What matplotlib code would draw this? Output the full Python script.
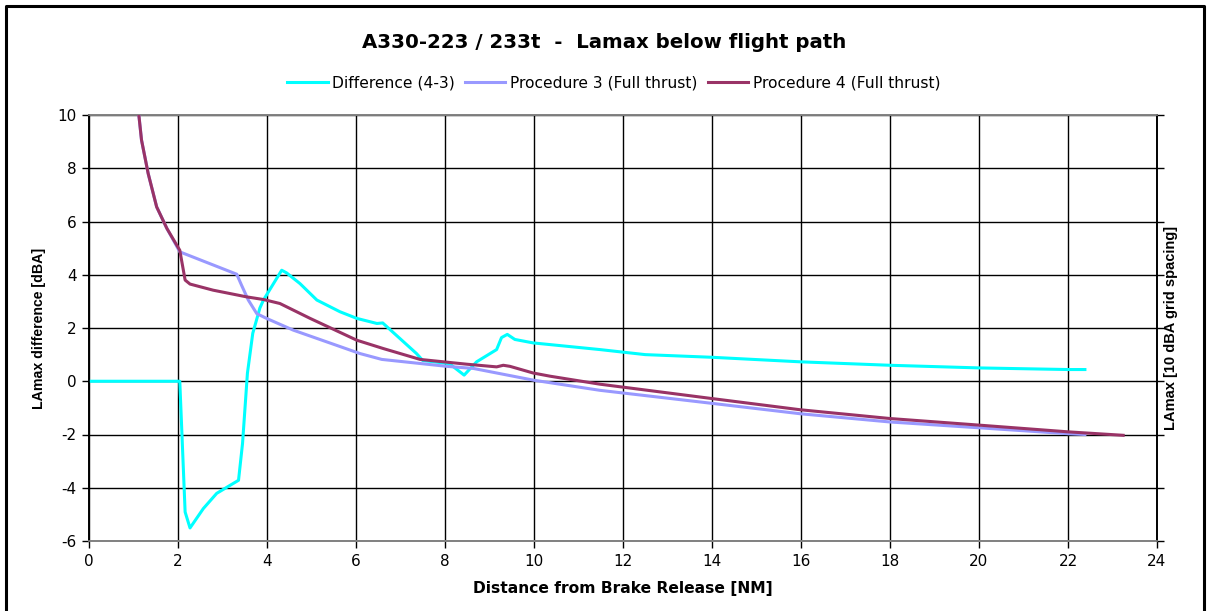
import matplotlib.pyplot as plt
from matplotlib.lines import Line2D

plt.rcParams['font.family'] = ['DejaVu Sans']
plt.rcParams['axes.unicode_minus'] = False

# Difference between procedures (4-3), dBA
diff_x = [0, 2.04, 2.16, 2.27, 2.57, 2.87, 3.24, 3.36, 3.45, 3.56, 3.68, 3.84, 3.92,
          4.33, 4.44, 4.74, 5.12, 5.64, 6.02, 6.47, 6.6, 7.36, 7.5, 8.1, 8.43, 8.71,
          9.16, 9.27, 9.4, 9.57, 9.98, 11.48, 12.5, 14.0, 15.98, 18.0, 20.02, 22.0, 22.38]
diff_y = [0, 0, -4.91, -5.51, -4.78, -4.21, -3.84, -3.72, -2.34, 0.3, 1.8, 2.75, 3.05,
          4.17, 4.07, 3.67, 3.05, 2.61, 2.36, 2.17, 2.19, 1.04, 0.78, 0.66, 0.23, 0.73,
          1.19, 1.64, 1.76, 1.57, 1.44, 1.19, 1.0, 0.9, 0.73, 0.6, 0.5, 0.44, 0.44]

# Procedure 3 (Full thrust)
p3_x = [1.12, 1.18, 1.33, 1.52, 1.75, 2.04, 3.32, 3.43, 3.58, 3.77, 3.99, 4.59, 5.34,
        6.09, 6.58, 8.04, 8.64, 9.99, 11.48, 14.0, 15.98, 18.0, 20.02, 22.0, 22.38]
p3_y = [10.0, 9.06, 7.8, 6.55, 5.74, 4.86, 4.02, 3.6, 3.05, 2.54, 2.36, 1.92, 1.48,
        1.04, 0.82, 0.56, 0.48, 0.04, -0.34, -0.83, -1.22, -1.53, -1.75, -1.97, -2.0]

# Procedure 4 (Full thrust)
p4_x = [1.12, 1.18, 1.33, 1.52, 1.75, 2.04, 2.16, 2.27, 2.79, 3.54, 3.92, 4.29, 4.97,
        6.02, 6.61, 7.44, 8.49, 9.16, 9.31, 9.46, 9.98, 10.36, 11.48, 14.0, 15.98,
        18.0, 20.02, 22.0, 23.24]
p4_y = [10.0, 9.06, 7.8, 6.55, 5.74, 4.92, 3.8, 3.65, 3.42, 3.17, 3.07, 2.92, 2.36,
        1.54, 1.23, 0.82, 0.64, 0.54, 0.6, 0.56, 0.31, 0.19, -0.11, -0.65, -1.07,
        -1.4, -1.65, -1.9, -2.03]

x_ticks = list(range(0, 25, 2))
y_ticks = list(range(-6, 11, 2))

W, H = 1208, 611
fig = plt.figure(figsize=(W / 100, H / 100), dpi=100)
ax = fig.add_axes([89 / W, 1 - 541 / H, (1157 - 89) / W, (541 - 115) / H])
ax2 = ax.twinx()

c_diff = '#00FFFF'
c_p3 = '#9999FF'
c_p4 = '#993366'

ax.plot(diff_x, diff_y, color=c_diff, lw=2.2, zorder=3)
ax2.plot(p3_x, p3_y, color=c_p3, lw=2.2, zorder=3)
ax2.plot(p4_x, p4_y, color=c_p4, lw=2.2, zorder=4)

for a in (ax, ax2):
    a.set_xlim(0, 24)
    a.set_ylim(-6, 10)
    a.set_yticks(y_ticks)

ax.set_xticks(x_ticks)
ax.grid(True, color='black', lw=1.0)
ax.set_axisbelow(True)
ax.tick_params(axis='both', direction='out', length=5, width=1, labelsize=11,
               colors='black', pad=4)
ax2.tick_params(axis='y', direction='out', length=5, width=1, labelright=False)
ax2.set_zorder(ax.get_zorder() + 1)
ax.patch.set_visible(True)
ax2.patch.set_visible(False)

for a in (ax, ax2):
    a.spines['top'].set_color('#808080')
    a.spines['bottom'].set_color('#808080')
    a.spines['left'].set_color('black')
    a.spines['right'].set_color('black')
    for s in a.spines.values():
        s.set_linewidth(1.2)

ax.set_xlabel('Distance from Brake Release [NM]', fontsize=11.2, fontweight='bold',
              labelpad=9)
ax.set_ylabel('LAmax difference [dBA]', fontsize=10.2,
              fontweight='bold', family=['Liberation Sans'], labelpad=8)
ax2.set_ylabel('LAmax [10 dBA grid spacing]', fontsize=10.5,
               fontweight='bold', family=['Liberation Sans'], labelpad=0)

fig.text(0.5, 1 - 43 / H, 'A330-223 / 233t  -  Lamax below flight path',
         ha='center', va='center', fontsize=14.2, fontweight='bold')

handles = [Line2D([], [], color=c_diff, lw=2.2),
           Line2D([], [], color=c_p3, lw=2.2),
           Line2D([], [], color=c_p4, lw=2.2)]
labels = ['Difference (4-3)', 'Procedure 3 (Full thrust)', 'Procedure 4 (Full thrust)']
fig.legend(handles, labels, loc='center', bbox_to_anchor=(0.508, 1 - 83 / H), ncol=3,
           frameon=False, fontsize=11.2, handlelength=2.6, handletextpad=0.3,
           columnspacing=0.65)

# outer chart border
border = [[6 / W, 6 / W, 1204 / W, 1204 / W], [-0.01, 1 - 6 / H, 1 - 6 / H, -0.01]]
fig.add_artist(Line2D(border[0], border[1], color='black', lw=2.2,
                      transform=fig.transFigure))

fig.savefig('out.png', dpi=100)
